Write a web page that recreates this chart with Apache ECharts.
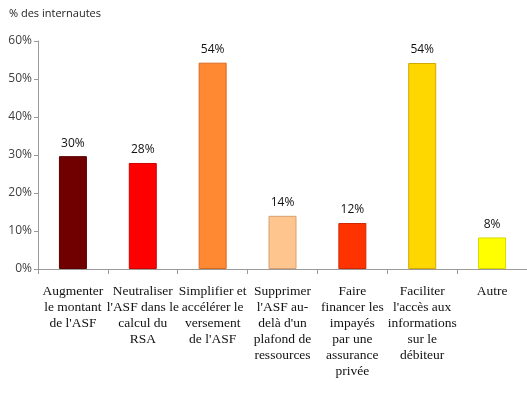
<!DOCTYPE html>
<html>
<head>
<meta charset="utf-8">
<script src="https://cdn.jsdelivr.net/npm/echarts@6/dist/echarts.min.js"></script>
<style>
  html, body { margin: 0; padding: 0; background: #fff; }
  #chart { width: 527px; height: 398px; }
</style>
</head>
<body>
<div id="chart"></div>
<script>
var categories = [
  "Augmenter\nle montant\nde l'ASF",
  "Neutraliser\nl'ASF dans le\ncalcul du\nRSA",
  "Simplifier et\naccélérer le\nversement\nde l'ASF",
  "Supprimer\nl'ASF au-\ndelà d'un\nplafond de\nressources",
  "Faire\nfinancer les\nimpayés\npar une\nassurance\nprivée",
  "Faciliter\nl'accès aux\ninformations\nsur le\ndébiteur",
  "Autre"
]
var values = [29.7, 27.9, 54.3, 14.0, 12.1, 54.2, 8.3]
var barColors = ['#700000', '#FF0000', '#FF8833', '#FFC58F', '#FF3300', '#FFD700', '#FFFF00']
var borderColors = ['#5A0000', '#D00000', '#D86A20', '#D8A070', '#D02800', '#D0A800', '#D8D800']

var chart = echarts.init(document.getElementById('chart'))

var data = values.map(function (v, i) {
  return {
    value: v,
    itemStyle: {
      color: barColors[i],
      borderColor: borderColors[i],
      borderWidth: 1
    }
  }
})

var option = {
  animation: false,
  title: {
    text: '% des internautes',
    left: 4,
    top: 3,
    textStyle: {
      fontFamily: 'Open Sans',
      fontSize: 11,
      fontWeight: 'normal',
      color: '#222'
    }
  },
  grid: {
    left: 38,
    right: 0,
    top: 41,
    bottom: 129,
    containLabel: false
  },
  xAxis: {
    type: 'category',
    data: categories,
    axisLine: { lineStyle: { color: '#9A9A9A' } },
    axisTick: { show: true, length: 5, lineStyle: { color: '#9A9A9A' } },
    axisLabel: {
      interval: 0,
      margin: 14,
      fontFamily: 'Liberation Serif',
      fontSize: 13.5,
      lineHeight: 16,
      color: '#111'
    }
  },
  yAxis: {
    type: 'value',
    min: 0,
    max: 60,
    interval: 10,
    splitLine: { show: false },
    axisLine: { show: true, lineStyle: { color: '#9A9A9A' } },
    axisTick: { show: true, length: 4, lineStyle: { color: '#9A9A9A' } },
    axisLabel: {
      formatter: '{value}%',
      margin: 6,
      fontFamily: 'Open Sans',
      fontSize: 12,
      color: '#404040'
    }
  },
  series: [{
    type: 'bar',
    barWidth: 28,
    data: data,
    label: {
      show: true,
      position: 'top',
      distance: 7,
      fontFamily: 'Open Sans',
      fontSize: 12,
      color: '#111',
      formatter: function (p) {
        return Math.round(p.value) + '%'
      }
    }
  }]
}

chart.setOption(option)
</script>
</body>
</html>
